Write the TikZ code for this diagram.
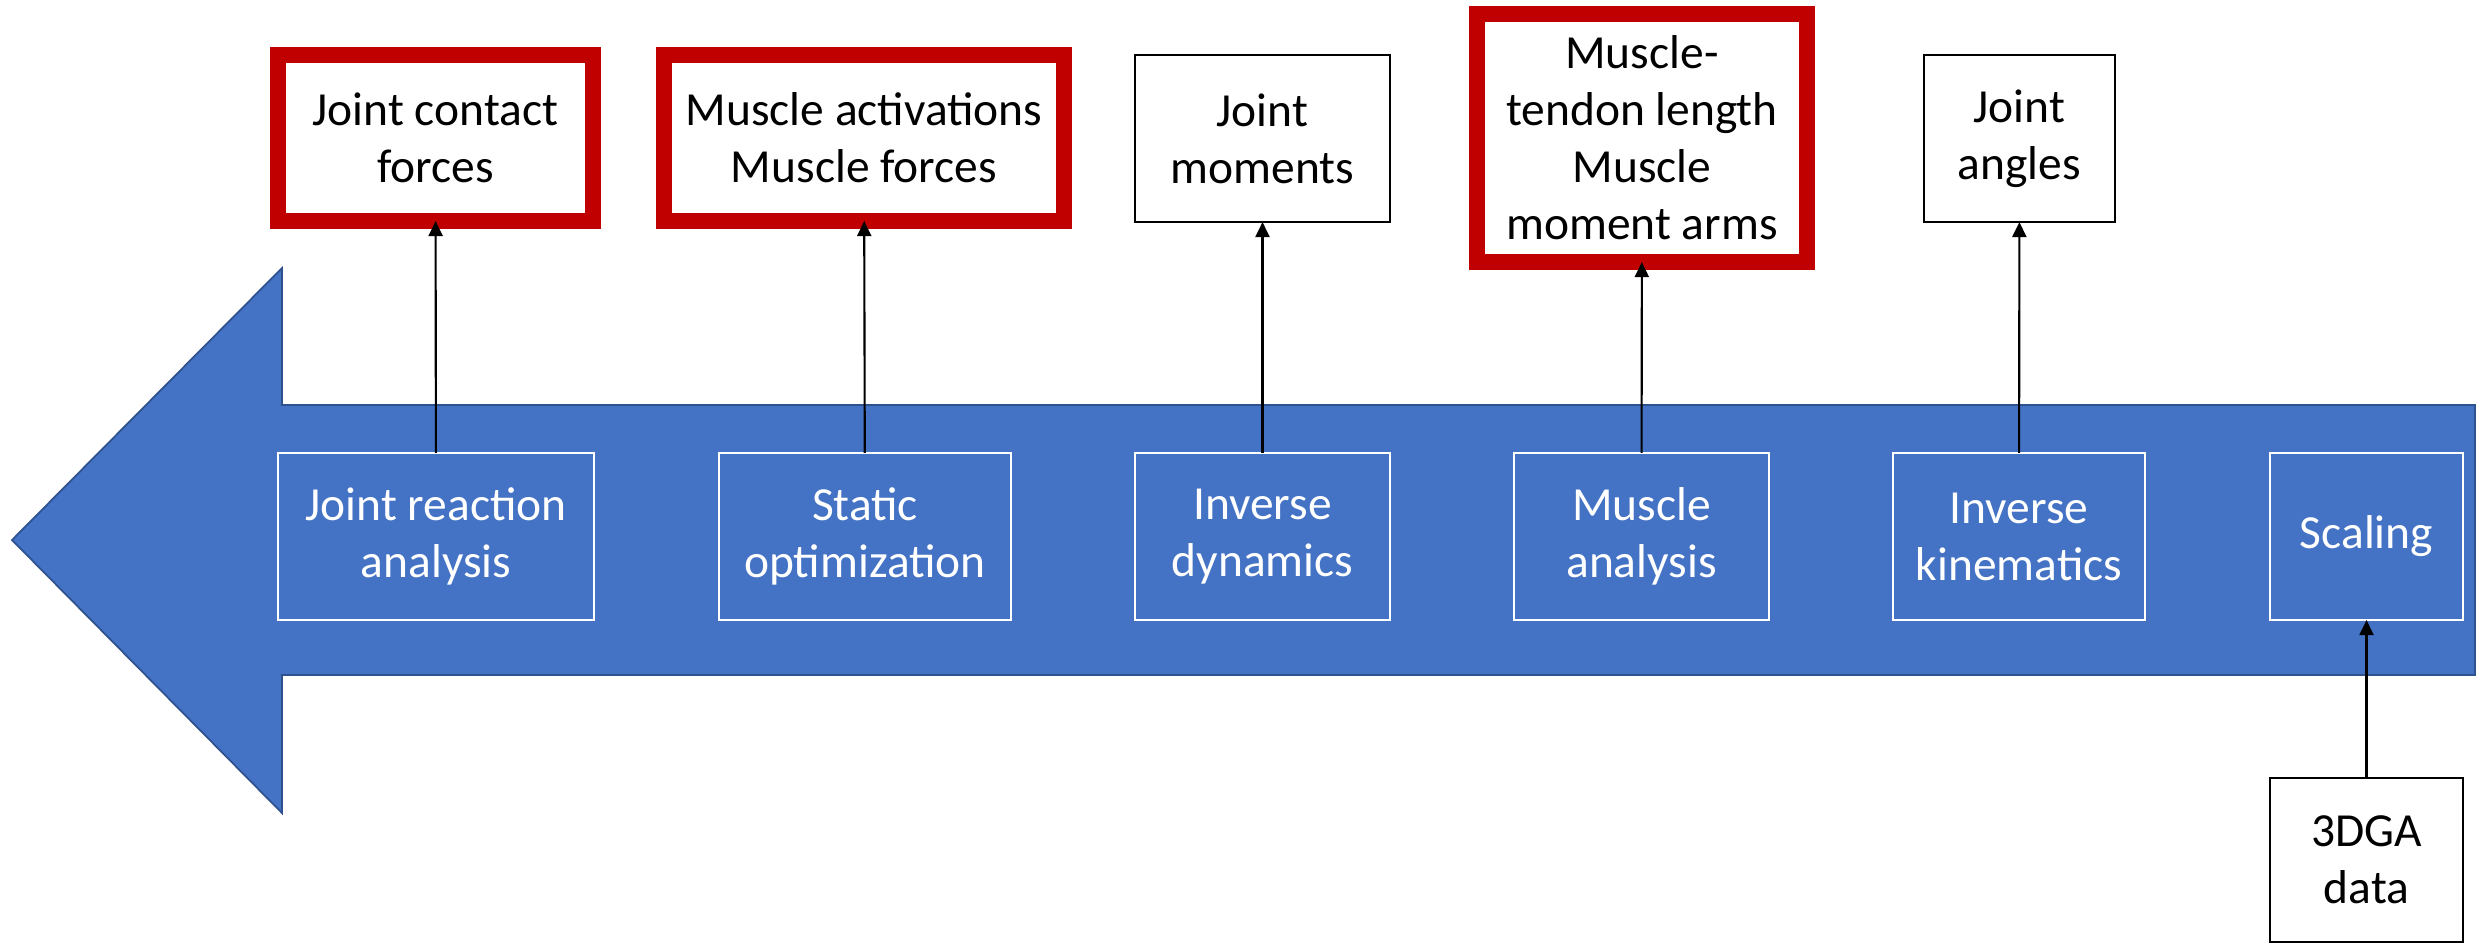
\documentclass[tikz,border=0pt]{standalone}
\usepackage{fontspec}
\setmainfont{Carlito}
\usetikzlibrary{arrows.meta}
\definecolor{flowblue}{HTML}{4472C4}
\definecolor{flowedge}{HTML}{2F528F}
\definecolor{keyred}{HTML}{C00000}

\begin{document}
\begin{tikzpicture}[x=0.01cm,y=-0.01cm,
	font=\fontsize{13.5}{16.2}\selectfont,
	toolbox/.style={draw=white,line width=0.6pt,text=white,align=center,inner sep=0pt,outer sep=0pt,minimum height=1.67cm},
	outbox/.style={draw=black,fill=white,line width=0.7pt,align=center,inner sep=0pt,outer sep=0pt,minimum height=1.67cm},
	keybox/.style={outbox,draw=keyred,line width=4.5pt},
	feed/.style={-{Triangle[width=1.4mm,length=1.5mm]},line width=0.6pt}]
				\useasboundingbox (0,0) rectangle (2481,944);
				
				\filldraw[fill=flowblue,draw=flowedge,line width=0.5pt] (12,540) -- (282,268) -- (282,405) -- (2475,405) -- (2475,675) -- (282,675) -- (282,813) -- cycle;
				
				\node[toolbox,minimum width=3.16cm] (jra) at (436,536.5) {Joint reaction\\analysis};
				\node[toolbox,minimum width=2.92cm] (so) at (865,536.5) {Static\\optimization};
				\node[toolbox,minimum width=2.55cm] (id) at (1262.5,536.5) {Inverse\\dynamics};
				\node[toolbox,minimum width=2.55cm] (ma) at (1641.5,536.5) {Muscle\\analysis};
				\node[toolbox,minimum width=2.52cm] (ik) at (2019,536.5) {Inverse\\kinematics};
				\node[toolbox,minimum width=1.93cm] (sc) at (2366.5,536.5) {Scaling};
				
				\node[keybox,minimum width=3.15cm,minimum height=1.66cm] (jcf) at (435.5,138) {Joint contact\\forces};
				\node[keybox,minimum width=4.00cm,minimum height=1.66cm] (maf) at (864,138) {Muscle activations\\Muscle forces};
				\node[outbox,minimum width=2.55cm] (jm) at (1262.5,138.5) {Joint\\moments};
				\node[keybox,minimum width=3.30cm,minimum height=2.48cm] (mtl) at (1642,138) {Muscle-\\tendon length\\Muscle\\moment arms};
				\node[outbox,minimum width=1.91cm] (ja) at (2019.5,138.5) {Joint\\angles};
				\node[outbox,minimum width=1.93cm,minimum height=1.64cm] (gait) at (2366.5,860) {3DGA\\data};
				
				\draw[feed] (jra) -- (jcf);
				\draw[feed] (so) -- (maf);
				\draw[feed] (id) -- (jm);
				\draw[feed] (ma) -- (mtl);
				\draw[feed] (ik) -- (ja);
				\draw[feed] (gait) -- (sc);
			\end{tikzpicture}
\end{document}
